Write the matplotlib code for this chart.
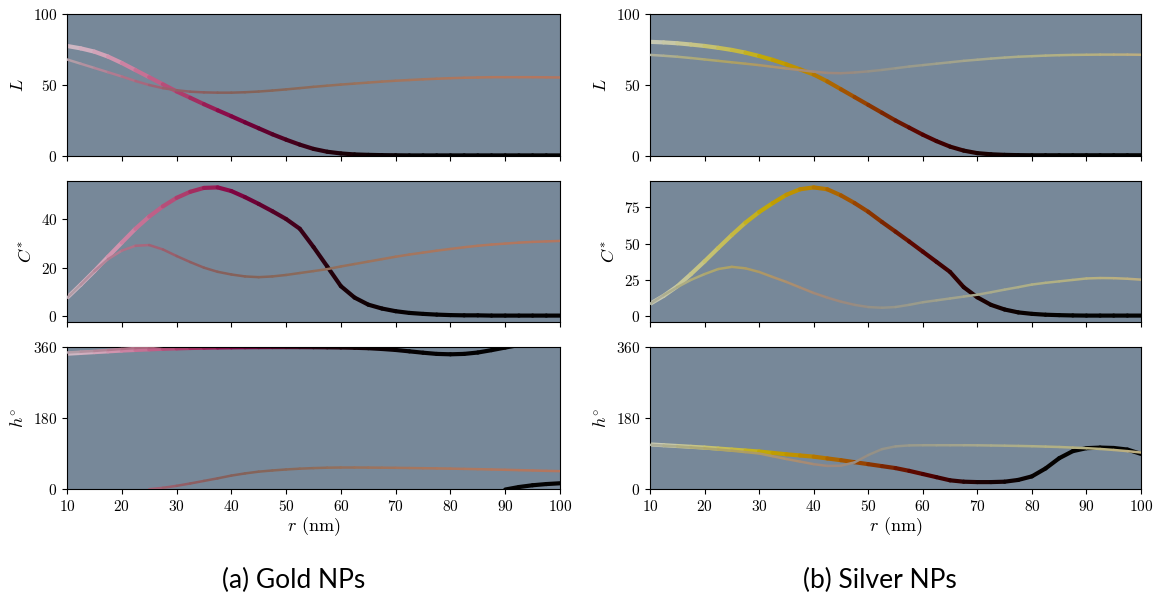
import numpy as np
import matplotlib
matplotlib.use("Agg")
import matplotlib.pyplot as plt
from matplotlib.collections import LineCollection

plt.rcParams["font.family"] = "serif"
plt.rcParams["font.serif"] = ["cmr10"]
plt.rcParams["mathtext.fontset"] = "cm"
plt.rcParams["axes.formatter.use_mathtext"] = True

# particle radius (nm)
r = [10, 12.5, 15, 17.5, 20, 22.5, 25, 27.5, 30, 32.5, 35, 37.5, 40, 42.5, 45, 47.5,
     50, 52.5, 55, 57.5, 60, 62.5, 65, 67.5, 70, 72.5, 75, 77.5, 80, 82.5, 85, 87.5,
     90, 92.5, 95, 97.5, 100]

# ---- Gold NPs ----
gold_L_thick = [77.5, 75.8, 73.5, 70, 65.5, 60.5, 55.5, 50.5, 45.5, 41, 36.5, 32.2, 28, 23.7,
                19.5, 15.3, 11.5, 8, 5, 3, 1.8, 1.1, 0.8, 0.6, 0.5, 0.4, 0.4, 0.4, 0.4, 0.4,
                0.4, 0.4, 0.4, 0.4, 0.4, 0.4, 0.4]
gold_L_thin = [68, 65, 62, 59, 56, 52.8, 50, 47.8, 46.3, 45.3, 44.8, 44.6, 44.6, 44.9, 45.4,
               46.1, 46.9, 47.8, 48.7, 49.5, 50.3, 51, 51.7, 52.4, 53, 53.5, 54, 54.4, 54.8,
               55.1, 55.3, 55.5, 55.5, 55.5, 55.5, 55.4, 55.3]
gold_C_thick = [7.6, 13, 18.6, 24.5, 30.3, 36, 41, 45.2, 48.7, 51.2, 52.8, 53, 51.5, 49, 46.2,
                43.2, 40, 36, 28.5, 20.5, 12.4, 7.7, 4.8, 3.2, 2.1, 1.4, 1.0, 0.7, 0.5, 0.4,
                0.4, 0.3, 0.3, 0.3, 0.3, 0.3, 0.3]
gold_C_thin = [7.6, 13, 18.6, 23.5, 27, 29, 29.3, 27.5, 24.8, 22.3, 20, 18.3, 17.2, 16.4, 16.1,
               16.4, 17, 17.8, 18.6, 19.4, 20.5, 21.5, 22.5, 23.5, 24.5, 25.4, 26.2, 27, 27.7,
               28.4, 29, 29.5, 29.9, 30.3, 30.6, 30.8, 31]
# hue angle (deg), unwrapped
gold_h_thick = [343, 345, 347, 349, 351, 352.5, 354, 355.5, 356.5, 357.5, 358.2, 358.8, 359.2,
                359.5, 359.7, 359.8, 359.8, 359.7, 359.5, 359.2, 358.8, 358, 357, 355, 352.5,
                349, 345.5, 342.5, 341.5, 342.5, 346, 352, 358.6, 365, 369.5, 372.5, 374.5]
gold_h_thin = [346, 348, 350, 352.5, 355, 357.5, 359.5, 363, 368, 374, 380.5, 387, 394, 399.5,
               404, 407, 409.5, 411.5, 413, 414, 414.5, 414.5, 414.3, 414, 413.7, 413.2, 412.7,
               412.2, 411.7, 411, 410.3, 409.5, 408.7, 407.8, 407, 406, 405.3]

# ---- Silver NPs ----
silver_L_thick = [80.4, 80, 79.4, 78.5, 77.5, 76.2, 74.7, 72.8, 70.4, 67.7, 64.5, 61, 57.4, 52.5,
                  47, 41.5, 36, 30.5, 25, 20, 15, 10.5, 6.6, 3.8, 2, 1.2, 0.8, 0.6, 0.5, 0.5,
                  0.5, 0.5, 0.5, 0.5, 0.5, 0.5, 0.5]
silver_L_thin = [71.2, 70.6, 69.9, 69, 68, 67, 66, 65, 64, 62.8, 61.6, 60.5, 59.4, 58.5, 58.3,
                 58.8, 59.6, 60.6, 61.8, 63, 64, 65, 66, 67, 67.8, 68.6, 69.3, 69.9, 70.3, 70.7,
                 71, 71.2, 71.3, 71.4, 71.4, 71.4, 71.3]
silver_C_thick = [8.5, 14, 20.6, 29, 37.8, 47, 56, 64.5, 71.8, 78, 83.7, 87.5, 88.8, 87.5, 83.3,
                  78, 72, 65, 58.3, 51.5, 44.5, 37.5, 30.5, 20, 13, 7.8, 4.6, 2.6, 1.6, 1.0,
                  0.7, 0.5, 0.4, 0.4, 0.4, 0.4, 0.4]
silver_C_thin = [8.5, 14.5, 20, 25, 29, 32.5, 34, 33, 30.5, 27, 23.6, 19.8, 16, 12.8, 10, 7.8,
                 6.3, 5.8, 6.3, 7.8, 9.6, 10.9, 12.2, 13.5, 14.8, 16.5, 18.3, 20, 21.8, 23, 24,
                 25, 26, 26.3, 26.2, 25.8, 25.2]
silver_h_thick = [113, 111, 109, 107, 105, 102.5, 100, 97.5, 95, 91.5, 88, 85, 82, 77.5, 73, 68,
                  63, 58, 53, 46, 38, 30, 22, 18.5, 17.5, 17.5, 18.5, 23, 32, 52, 78, 96,
                  103.5, 105, 104, 100, 89]
silver_h_thin = [112, 110, 108, 105.5, 103, 100, 97, 93.5, 90, 83, 76, 69.5, 63, 58.5, 59, 67.5,
                 86, 101, 108, 110.5, 111, 111, 111, 111, 110.8, 110.3, 109.8, 109.2, 108.5,
                 107.5, 106.5, 105, 103.5, 101.5, 99, 96, 92.5]

x_ticks = [10, 20, 30, 40, 50, 60, 70, 80, 90, 100]
ylabels = [r"$L$", r"$C^{*}$", r"$h^{\circ}$"]
captions = ["(a) Gold NPs", "(b) Silver NPs"]
BG = "#778899"


def lch_to_rgb(L, C, h):
    L = np.asarray(L, float); C = np.asarray(C, float); h = np.asarray(h, float)
    a = C * np.cos(np.radians(h)); b = C * np.sin(np.radians(h))
    fy = (L + 16) / 116.0
    fx = fy + a / 500.0
    fz = fy - b / 200.0
    d = 6 / 29

    def finv(t):
        return np.where(t > d, t ** 3, 3 * d * d * (t - 4 / 29))
    X = 0.95047 * finv(fx); Y = finv(fy); Z = 1.08883 * finv(fz)
    M = np.array([[3.2406, -1.5372, -0.4986],
                  [-0.9689, 1.8758, 0.0415],
                  [0.0557, -0.2040, 1.0570]])
    lin = M @ np.vstack([X, Y, Z])
    lin = np.clip(lin, 0, None)
    srgb = np.where(lin <= 0.0031308, 12.92 * lin, 1.055 * lin ** (1 / 2.4) - 0.055)
    return np.clip(srgb.T, 0, 1)


def colored_line(ax, x, y, cols, lw, z, wrap=False):
    x = np.asarray(x, float); y = np.asarray(y, float)
    segc = (cols[:-1] + cols[1:]) / 2
    pts = np.column_stack([x, y]).reshape(-1, 1, 2)
    segs = np.concatenate([pts[:-1], pts[1:]], axis=1)
    if not wrap:
        parts = [(segs, segc, True)]
    else:
        lo = np.minimum(y[:-1], y[1:])
        hi = np.maximum(y[:-1], y[1:])
        m0 = lo <= 360
        m1 = hi >= 360
        shifted = segs.copy()
        shifted[:, :, 1] -= 360
        parts = [(segs[m0], segc[m0], False), (shifted[m1], segc[m1], False)]
    for s, c, auto in parts:
        if len(s) == 0:
            continue
        lc = LineCollection(s, colors=c, linewidths=lw, capstyle="round",
                            joinstyle="round", zorder=z, snap=False)
        ax.add_collection(lc, autolim=auto)


fig = plt.figure(figsize=(11.57, 5.97), dpi=100)
W, H = 1157, 597
cols_x = [(67, 560), (650, 1141)]
rows_y = [(14, 156), (181, 322), (347, 489)]
cap_x = [294, 880]

data = [
    (gold_L_thick, gold_L_thin, gold_C_thick, gold_C_thin, gold_h_thick, gold_h_thin),
    (silver_L_thick, silver_L_thin, silver_C_thick, silver_C_thin, silver_h_thick, silver_h_thin),
]

for ci, (x0, x1) in enumerate(cols_x):
    Lk, Ln, Ck, Cn, hk, hn = data[ci]
    col_k = lch_to_rgb(Lk, Ck, hk)
    col_n = lch_to_rgb(Ln, Cn, hn)
    series = [(Lk, Ln), (Ck, Cn), (hk, hn)]
    for ri, (y0, y1) in enumerate(rows_y):
        ax = fig.add_axes([x0 / W, 1 - y1 / H, (x1 - x0) / W, (y1 - y0) / H])
        ax.set_facecolor(BG)
        yk, yn = series[ri]
        colored_line(ax, r, yk, col_k, 3.0, 2, wrap=(ri == 2))
        colored_line(ax, r, yn, col_n, 1.8, 3, wrap=(ri == 2))
        ax.set_xlim(10, 100)
        if ri == 0:
            ax.set_ylim(0, 100)
            ax.set_yticks([0, 50, 100])
        elif ri == 1:
            ax.autoscale_view(scalex=False, scaley=True)
            if ci == 1:
                ax.set_yticks([0, 25, 50, 75])
            else:
                ax.set_yticks([0, 20, 40])
        else:
            ax.set_ylim(0, 360)
            ax.set_yticks([0, 180, 360])
        ax.set_xticks(x_ticks)
        ax.tick_params(direction="out", length=3.5, width=0.8, labelsize=11)
        if ri < 2:
            ax.tick_params(labelbottom=False)
        else:
            ax.set_xlabel(r"$r$ (nm)", fontsize=13, labelpad=1)
        ax.set_ylabel(ylabels[ri], fontsize=13, labelpad=5)
    fig.text(cap_x[ci] / W, 1 - 580 / H, captions[ci], ha="center", va="center",
             fontsize=19, family="Lato")

fig.savefig("out.png", dpi=100)
